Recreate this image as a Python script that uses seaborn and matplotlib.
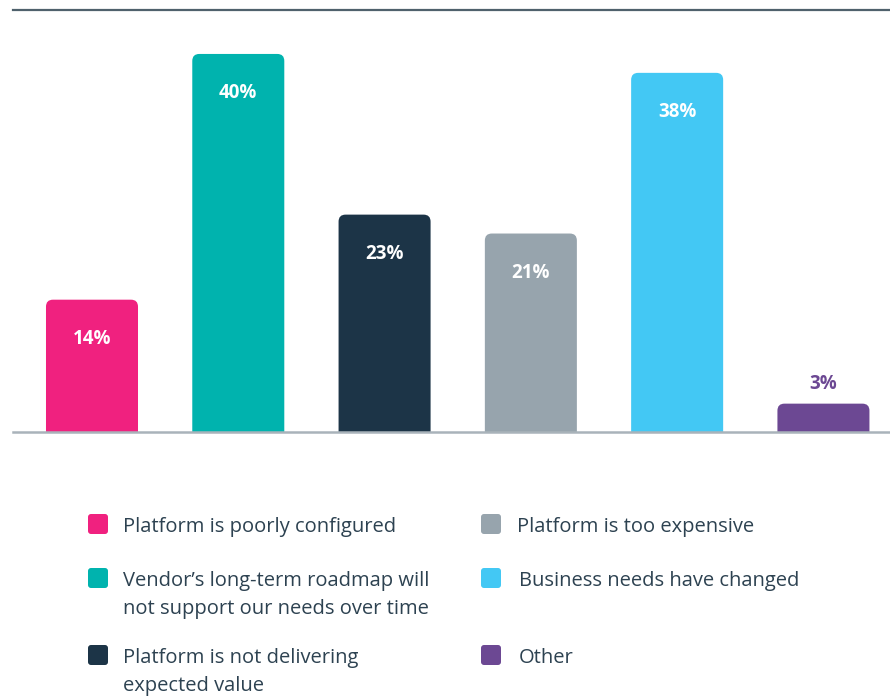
import matplotlib
matplotlib.use("Agg")
import matplotlib.pyplot as plt
import seaborn as sns
import pandas as pd
from matplotlib.patches import FancyBboxPatch
from matplotlib.transforms import IdentityTransform

# Reasons and their share of respondents (%)
categories = [
    "Platform is poorly configured",
    "Vendor\u2019s long-term roadmap will\nnot support our needs over time",
    "Platform is not delivering\nexpected value",
    "Platform is too expensive",
    "Business needs have changed",
    "Other",
]
values = [14, 40, 23, 21, 38, 3]
colors = ["#F0217F", "#00B3AE", "#1C3447", "#97A4AD", "#43C8F4", "#6C4893"]

TEXT_COLOR = "#2D4251"

sns.set_theme(style="white")
plt.rcParams["font.family"] = ["Open Sans", "DejaVu Sans"]

W, H = 890, 697
fig = plt.figure(figsize=(W / 100, H / 100), dpi=100)
ax = fig.add_axes([13 / W, (H - 432) / H, (890 - 13) / W, 422 / H])

df = pd.DataFrame({"reason": categories, "share": values})
sns.barplot(data=df, x="reason", y="share", hue="reason", palette=colors,
            legend=False, width=0.629, saturation=1, ax=ax)

xmin, xmax = -0.54, 5.455
ymin, ymax = 0, 44.65
ax.set_xlim(xmin, xmax)
ax.set_ylim(ymin, ymax)

# Replace plain bars with bars that have rounded top corners
px_per_x = (890 - 13) / (xmax - xmin)
px_per_y = 422 / (ymax - ymin)
radius_px = 7
bars = list(ax.patches)
for bar in bars:
    x, w, h = bar.get_x(), bar.get_width(), bar.get_height()
    fc = bar.get_facecolor()
    bar.remove()
    rounded = FancyBboxPatch(
        (x, -2), w, h + 2,
        boxstyle=f"round,pad=0,rounding_size={radius_px / px_per_x}",
        mutation_aspect=px_per_x / px_per_y,
        facecolor=fc, edgecolor="none", zorder=2,
    )
    ax.add_patch(rounded)
    cx = x + w / 2
    if h >= 10:
        ax.annotate(f"{h:.0f}%", (cx, h), xytext=(0, -39 * 0.72),
                    textcoords="offset points", ha="center", va="center",
                    color="white", fontsize=13.5, fontweight="bold", zorder=3)
    else:
        ax.annotate(f"{h:.0f}%", (cx, h), xytext=(0, 20 * 0.72),
                    textcoords="offset points", ha="center", va="center",
                    color=fc, fontsize=13.5, fontweight="bold", zorder=3)

ax.set_xticks([])
ax.set_yticks([])
ax.set_xlabel("")
ax.set_ylabel("")
for side in ("left", "right"):
    ax.spines[side].set_visible(False)
ax.spines["top"].set_color("#4F616C")
ax.spines["top"].set_linewidth(1.6)
ax.spines["bottom"].set_color("#A9B3BA")
ax.spines["bottom"].set_linewidth(1.8)

# Legend laid out in two columns below the bars
swatch_x = [88, 88, 88, 481, 481, 481]
text_x = [123, 123, 123, 517, 519, 519]
row_y = [526, 580, 657, 526, 580, 657]
for i, label in enumerate(categories):
    sy = row_y[i] - 2
    fig.add_artist(FancyBboxPatch(
        (swatch_x[i], H - sy - 10), 20, 20,
        boxstyle="round,pad=0,rounding_size=3",
        transform=IdentityTransform(), facecolor=colors[i], edgecolor="none"))
    fig.text(text_x[i] / W, 1 - (row_y[i] - 9) / H, label,
             ha="left", va="top", fontsize=14.5, color=TEXT_COLOR,
             linespacing=1.55)

fig.savefig("out.png", dpi=100)
